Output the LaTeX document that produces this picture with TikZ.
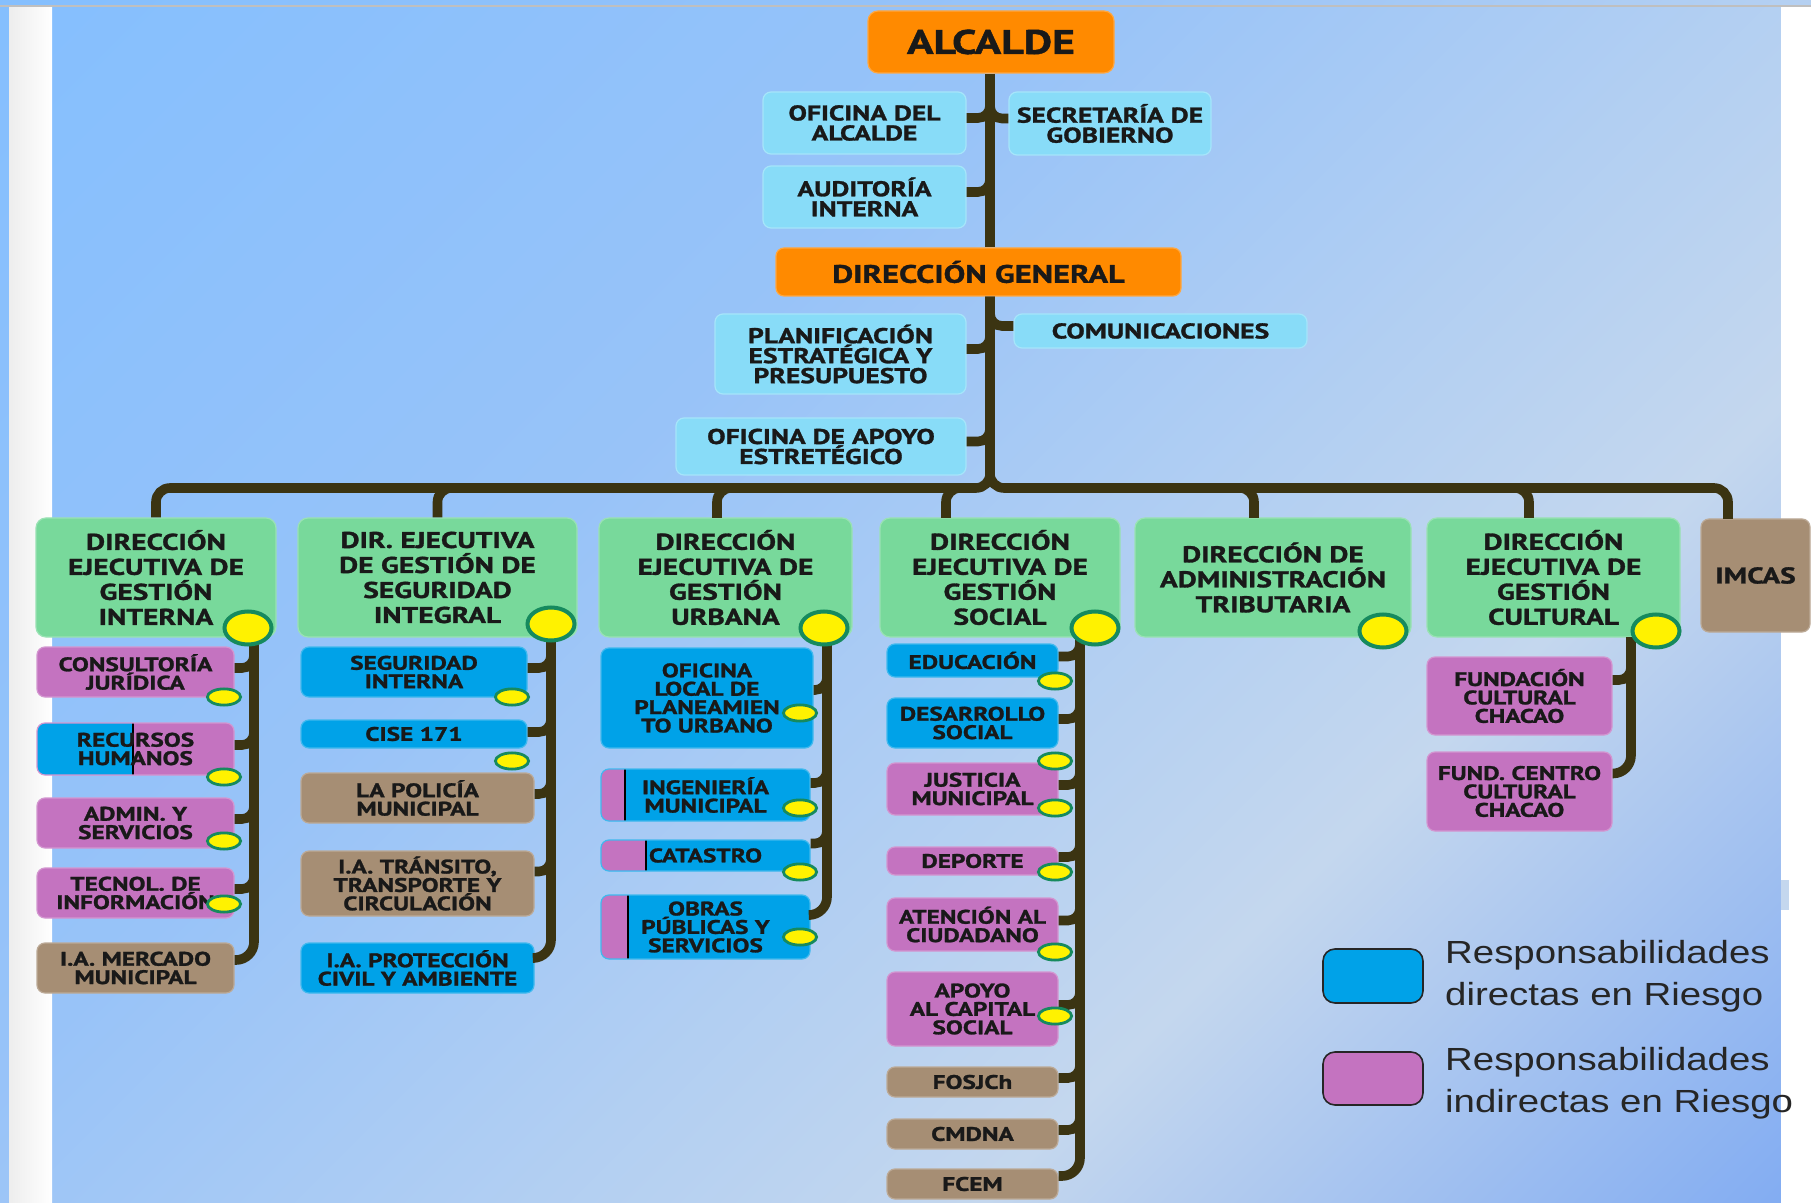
\documentclass[tikz,border=0pt]{standalone}
\usepackage{fontspec}
\usepackage{xcolor}
\usetikzlibrary{positioning}
\usetikzlibrary{shapes.geometric}
\usetikzlibrary{calc}

\newfontfamily\orgfont{PT Sans}[FakeStretch=1.29, FakeBold=1.3]
\newfontfamily\legfont{Liberation Sans}[FakeStretch=1.2]

\definecolor{orng}{HTML}{FF8A00}
\definecolor{cyn}{HTML}{88DCF8}
\definecolor{grn}{HTML}{78D99B}
\definecolor{blu}{HTML}{00A2E8}
\definecolor{pnk}{HTML}{C473C0}
\definecolor{brn}{HTML}{A68E74}
\definecolor{lnk}{HTML}{3B3412}
\definecolor{mk}{HTML}{168A5E}
\definecolor{bgA}{HTML}{85BFFE}
\definecolor{bgM}{HTML}{98C3F8}
\definecolor{bgB}{HTML}{C4D7EE}
\definecolor{bgC}{HTML}{82ACF2}
\pgfdeclarehorizontalshading{bgsh}{100bp}{color(0bp)=(bgA); color(15bp)=(bgA); color(40bp)=(bgM); color(66bp)=(bgB); color(85bp)=(bgC); color(100bp)=(bgC)}

\begin{document}
\begin{tikzpicture}[x=0.5pt, y=-0.5pt,
    bx/.style={rounded corners=4pt, fill=#1, draw=#1!75!white, line width=0.6pt, text=black!90, align=center, inner sep=0pt},
    sz/.style 2 args={minimum width=#1*0.5pt, minimum height=#2*0.5pt},
    cy/.style={bx={cyn}, font=\orgfont\bfseries\fontsize{10.7}{10}\selectfont},
    dr/.style={bx={grn}, rounded corners=5pt, sz={#1}{119}, font=\orgfont\bfseries\fontsize{11.4}{12.5}\selectfont},
    un/.style={bx={#1}, font=\orgfont\bfseries\fontsize{9.8}{9.2}\selectfont},
    half/.style 2 args={path picture={\fill[#1, sharp corners] (path picture bounding box.north west) rectangle ([xshift=#2]path picture bounding box.south west); \draw[black, line width=0.7pt] ([xshift=#2]path picture bounding box.north west) -- ([xshift=#2]path picture bounding box.south west);}},
    ln/.style={draw=lnk, line width=4.8pt, rounded corners=6pt},
    mkb/.style={ellipse, draw=mk, fill=yellow, line width=2pt, minimum width=23.5pt, minimum height=16.5pt, inner sep=0pt},
    mks/.style={ellipse, draw=mk, fill=yellow, line width=1.4pt, minimum width=16.6pt, minimum height=8.1pt, inner sep=0pt},
    lg/.style={align=left, inner sep=0pt, text=black!85, font=\legfont\fontsize{16}{21}\selectfont}]

    \useasboundingbox (0,0) rectangle (1811,1203);
    \shade[shading=bgsh, shading angle=-45] (0,0) rectangle (1811,1203);
    \shade[left color=black!7, right color=white] (9,7) rectangle (52,1203);
    \fill[white] (1781,7) rectangle (1811,1203);
    \fill[bgB] (1781,880) rectangle (1789,910);
    \draw[black!25, line width=1pt] (0,6) -- (1811,6);

    \node[bx={orng}, rounded corners=5pt, sz={246}{62}, font=\orgfont\bfseries\fontsize{17}{17}\selectfont] (alc) at (991, 42) {ALCALDE};
    \node[cy, sz={203}{62}] (ofa) at (864.5, 123) {OFICINA DEL\\ALCALDE};
    \node[cy, sz={202}{63}] (sec) at (1110, 123.5) {SECRETARÍA DE\\GOBIERNO};
    \node[cy, sz={203}{62}] (aud) at (864.5, 197) {AUDITORÍA\\INTERNA};
    \node[bx={orng}, sz={405}{48}, font=\orgfont\bfseries\fontsize{12.6}{12.6}\selectfont] (dg) at (978.5, 272) {DIRECCIÓN GENERAL};
    \node[cy, sz={251}{80}] (plan) at (840.5, 354) {PLANIFICACIÓN\\ESTRATÉGICA Y\\PRESUPUESTO};
    \node[cy, sz={293}{34}] (com) at (1160.5, 331) {COMUNICACIONES};
    \node[cy, sz={290}{57}] (apo) at (821, 446.5) {OFICINA DE APOYO\\ESTRETÉGICO};

    \node[dr={240}] (l1) at (156, 577.5) {DIRECCIÓN\\EJECUTIVA DE\\GESTIÓN\\INTERNA};
    \node[dr={279}] (l2) at (437.5, 577.5) {DIR. EJECUTIVA\\DE GESTIÓN DE\\SEGURIDAD\\INTEGRAL};
    \node[dr={253}] (l3) at (725.5, 577.5) {DIRECCIÓN\\EJECUTIVA DE\\GESTIÓN\\URBANA};
    \node[dr={240}] (l4) at (1000, 577.5) {DIRECCIÓN\\EJECUTIVA DE\\GESTIÓN\\SOCIAL};
    \node[dr={276}] (l5) at (1273, 577.5) {DIRECCIÓN DE\\ADMINISTRACIÓN\\TRIBUTARIA};
    \node[dr={253}] (l6) at (1553.5, 577.5) {DIRECCIÓN\\EJECUTIVA DE\\GESTIÓN\\CULTURAL};
    \node[dr={109}, bx={brn}, sz={109}{113}] (imcas) at (1755.5, 575.5) {IMCAS};

    \node[un={pnk}, sz={197}{50}] (cons) at (135.5, 672) {CONSULTORÍA\\JURÍDICA};
    \node[un={pnk}, sz={197}{52}, half={blu}{48pt}] (rrhh) at (135.5, 749) {RECURSOS\\HUMANOS};
    \node[un={pnk}, sz={197}{50}] (adm) at (135.5, 823) {ADMIN. Y\\SERVICIOS};
    \node[un={pnk}, sz={197}{50}] (tec) at (135.5, 893) {TECNOL. DE\\INFORMACIÓN};
    \node[un={brn}, sz={197}{50}] (merc) at (135.5, 968) {I.A. MERCADO\\MUNICIPAL};

    \node[un={blu}, sz={226}{50}] (segi) at (414, 672) {SEGURIDAD\\INTERNA};
    \node[un={blu}, sz={226}{28}] (cise) at (414, 734) {CISE 171};
    \node[un={brn}, sz={233}{50}] (pol) at (417.5, 798) {LA POLICÍA\\MUNICIPAL};
    \node[un={brn}, sz={233}{65}] (tran) at (417.5, 883.5) {I.A. TRÁNSITO,\\TRANSPORTE Y\\CIRCULACIÓN};
    \node[un={blu}, sz={233}{50}] (prot) at (417.5, 968) {I.A. PROTECCIÓN\\CIVIL Y AMBIENTE};

    \node[un={blu}, sz={212}{100}] (olpu) at (707, 698) {OFICINA\\LOCAL DE\\PLANEAMIEN\\TO URBANO};
    \node[un={blu}, sz={209}{52}, half={pnk}{12pt}] (ing) at (705.5, 795) {INGENIERÍA\\MUNICIPAL};
    \node[un={blu}, sz={209}{31}, half={pnk}{22.5pt}] (cat) at (705.5, 855.5) {CATASTRO};
    \node[un={blu}, sz={209}{64}, half={pnk}{13.5pt}] (obras) at (705.5, 927) {OBRAS\\PÚBLICAS Y\\SERVICIOS};

    \node[un={blu}, sz={171}{33}] (edu) at (972.5, 660.5) {EDUCACIÓN};
    \node[un={blu}, sz={171}{50}] (des) at (972.5, 723) {DESARROLLO\\SOCIAL};
    \node[un={pnk}, sz={171}{52}] (jus) at (972.5, 789) {JUSTICIA\\MUNICIPAL};
    \node[un={pnk}, sz={171}{28}] (dep) at (972.5, 861) {DEPORTE};
    \node[un={pnk}, sz={171}{53}] (ate) at (972.5, 924.5) {ATENCIÓN AL\\CIUDADANO};
    \node[un={pnk}, sz={171}{74}] (apc) at (972.5, 1009) {APOYO\\AL CAPITAL\\SOCIAL};
    \node[un={brn}, sz={171}{30}] (fos) at (972.5, 1082) {FOSJCh};
    \node[un={brn}, sz={171}{30}] (cmd) at (972.5, 1134) {CMDNA};
    \node[un={brn}, sz={171}{30}] (fcem) at (972.5, 1184) {FCEM};

    \node[un={pnk}, sz={185}{78}] (fcc) at (1519.5, 696) {FUNDACIÓN\\CULTURAL\\CHACAO};
    \node[un={pnk}, sz={185}{79}] (fcen) at (1519.5, 791.5) {FUND. CENTRO\\CULTURAL\\CHACAO};

    \coordinate (bus) at (990, 488);
    \coordinate (d3) at (717, 518);
    \coordinate (d4) at (946, 518);
    \coordinate (d5) at (1254, 518);
    \coordinate (d6) at (1529, 518);
    \coordinate (d7) at (1728, 519);
    \coordinate (s1) at (254, 637);
    \coordinate (s2) at (551, 637);
    \coordinate (s3) at (827, 637);
    \coordinate (s4) at (1080, 637);
    \coordinate (s6) at (1631, 637);

    \draw[ln] (bus |- alc.south) -- (bus |- dg.north);
    \draw[ln, rounded corners=7pt] (bus |- dg.south) |- (bus -| l1.north) -- (l1.north);
    \draw[ln, rounded corners=7pt] (bus |- dg.south) |- (bus -| d7) -- (d7);
    \draw[ln, rounded corners=7pt] ($(bus -| l2.north)+(16,0)$) -| (l2.north);
    \draw[ln, rounded corners=7pt] ($(bus -| d3)+(16,0)$) -| (d3);
    \draw[ln, rounded corners=7pt] ($(bus -| d4)+(16,0)$) -| (d4);
    \draw[ln, rounded corners=7pt] ($(bus -| d5)+(-16,0)$) -| (d5);
    \draw[ln, rounded corners=7pt] ($(bus -| d6)+(-16,0)$) -| (d6);

    \draw[ln] ([yshift=2.5pt]ofa.east) -| ($(bus |- ofa.east)+(0,-20)$);
    \draw[ln] ([yshift=2.5pt]sec.west) -| ($(bus |- sec.west)+(0,-20)$);
    \draw[ln] ([yshift=2.5pt]aud.east) -| ($(bus |- aud.east)+(0,-20)$);
    \draw[ln] ([yshift=2.5pt]plan.east) -| ($(bus |- plan.east)+(0,-20)$);
    \draw[ln] ([yshift=2.5pt]com.west) -| ($(bus |- com.west)+(0,-20)$);
    \draw[ln] ([yshift=2.5pt]apo.east) -| ($(bus |- apo.east)+(0,-20)$);

    \draw[ln, rounded corners=9pt] (s1) |- ([yshift=4pt]merc.east);
    \draw[ln] ([yshift=2pt]cons.east) -| ($(s1 |- cons.east)+(0,-18)$);
    \draw[ln] ([yshift=2pt]rrhh.east) -| ($(s1 |- rrhh.east)+(0,-18)$);
    \draw[ln] ([yshift=2pt]adm.east) -| ($(s1 |- adm.east)+(0,-18)$);
    \draw[ln] ([yshift=2pt]tec.east) -| ($(s1 |- tec.east)+(0,-18)$);

    \draw[ln, rounded corners=9pt] (s2) |- ([yshift=5pt]prot.east);
    \draw[ln] ([yshift=2pt]segi.east) -| ($(s2 |- segi.east)+(0,-18)$);
    \draw[ln] ([yshift=1pt]cise.east) -| ($(s2 |- cise.east)+(0,-18)$);
    \draw[ln] ([yshift=2pt]pol.east) -| ($(s2 |- pol.east)+(0,-18)$);
    \draw[ln] ([yshift=6pt]tran.east) -| ($(s2 |- tran.east)+(0,-30)$);

    \draw[ln, rounded corners=9pt] (s3) |- ([yshift=6pt]obras.east);
    \draw[ln] ([yshift=4pt]olpu.east) -| ($(s3 |- olpu.east)+(0,-26)$);
    \draw[ln] ([yshift=6pt]ing.east) -| ($(s3 |- ing.east)+(0,-30)$);
    \draw[ln] ([yshift=6pt]cat.east) -| ($(s3 |- cat.east)+(0,-30)$);

    \draw[ln, rounded corners=9pt] (s4) |- ([yshift=4pt]fcem.east);
    \draw[ln] ([yshift=2pt]edu.east) -| ($(s4 |- edu.east)+(0,-18)$);
    \draw[ln] ([yshift=2pt]des.east) -| ($(s4 |- des.east)+(0,-18)$);
    \draw[ln] ([yshift=2pt]jus.east) -| ($(s4 |- jus.east)+(0,-18)$);
    \draw[ln] ([yshift=2pt]dep.east) -| ($(s4 |- dep.east)+(0,-18)$);
    \draw[ln] ([yshift=2pt]ate.east) -| ($(s4 |- ate.east)+(0,-18)$);
    \draw[ln] ([yshift=2pt]apc.east) -| ($(s4 |- apc.east)+(0,-18)$);
    \draw[ln] ([yshift=2pt]fos.east) -| ($(s4 |- fos.east)+(0,-18)$);
    \draw[ln] ([yshift=2pt]cmd.east) -| ($(s4 |- cmd.east)+(0,-18)$);

    \draw[ln, rounded corners=9pt] (s6) |- ([yshift=9pt]fcen.east);
    \draw[ln] ([yshift=8pt]fcc.east) -| ($(s6 |- fcc.east)+(0,-34)$);

    \node[mkb] (y1) at (248, 628) {};
    \node[mkb] (y2) at (551, 624) {};
    \node[mkb] (y3) at (824, 628) {};
    \node[mkb] (y4) at (1095, 628) {};
    \node[mkb] (y5) at (1383, 631) {};
    \node[mkb] (y6) at (1656, 631) {};

    \node[mks] (m1) at (224, 697) {};
    \node[mks] (m2) at (224, 777) {};
    \node[mks] (m3) at (224, 841) {};
    \node[mks] (m4) at (224, 904) {};
    \node[mks] (m5) at (512, 697) {};
    \node[mks] (m6) at (512, 761) {};
    \node[mks] (m7) at (800, 713) {};
    \node[mks] (m8) at (800, 808) {};
    \node[mks] (m9) at (800, 872) {};
    \node[mks] (m10) at (800, 937) {};
    \node[mks] (m11) at (1055, 681) {};
    \node[mks] (m12) at (1055, 761) {};
    \node[mks] (m13) at (1055, 808) {};
    \node[mks] (m14) at (1055, 872) {};
    \node[mks] (m15) at (1055, 952) {};
    \node[mks] (m16) at (1055, 1016) {};

    \node[bx={blu}, draw=black!85, line width=0.8pt, rounded corners=6pt, sz={100}{54}] (kb) at (1373, 976) {};
    \node[bx={pnk}, draw=black!85, line width=0.8pt, rounded corners=6pt, sz={100}{53}] (kp) at (1373, 1078.5) {};
    \node[lg, right=10.5pt of kb] (kbt) {Responsabilidades\\directas en Riesgo};
    \node[lg, right=10.5pt of kp, yshift=-2.5pt] (kpt) {Responsabilidades\\indirectas en Riesgo};
\end{tikzpicture}
\end{document}
